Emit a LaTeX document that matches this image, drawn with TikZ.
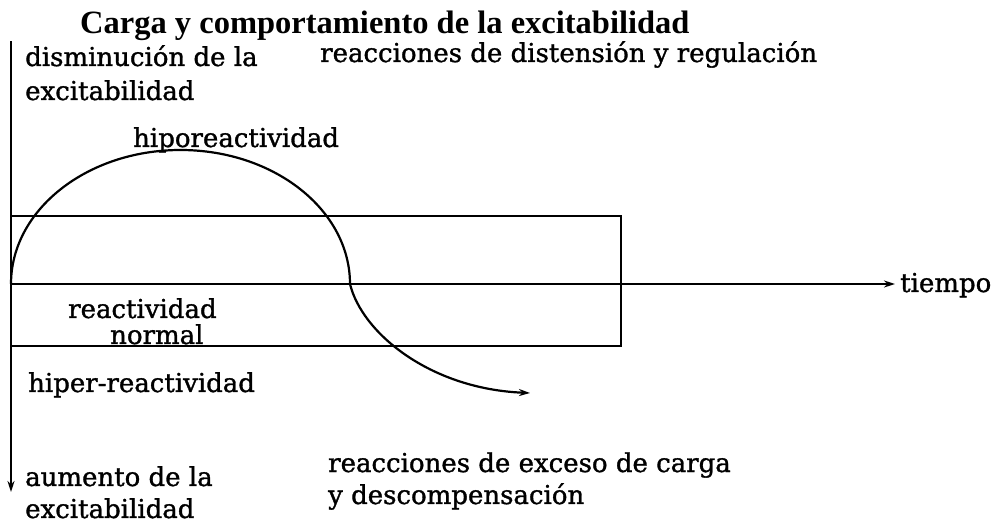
\documentclass[tikz,border=0pt]{standalone}
\usepackage{fontspec}
\setmainfont{DejaVu Serif}[FakeBold=1.2]
\newfontfamily\headfont{Liberation Serif}
\usetikzlibrary{arrows.meta}

\begin{document}
\begin{tikzpicture}[x=1pt,y=1pt,
    notetext/.style ={anchor=base west, inner sep=0pt, font=\fontsize{26}{30}\selectfont},
    headtext/.style ={anchor=base west, inner sep=0pt, font=\headfont\bfseries\fontsize{32.5}{36}\selectfont},
    axisline/.style ={line width=2.2pt, -{Stealth[length=11pt,width=7pt]}},
    boxline/.style ={line width=2.2pt}]
   \useasboundingbox (0,0) rectangle (1005,528);

   \coordinate (O) at (11,244);
   \coordinate (ytop) at (11,487);
   \coordinate (ybot) at (11,36);
   \coordinate (xend) at (895,244);
   \coordinate (boxbl) at (11,182);
   \coordinate (boxtr) at (621,312);
   \coordinate (curveend) at (530,135);

   \node[headtext] (title) at (80,494) {Carga y comportamiento de la excitabilidad};
   \node[notetext] (dis1) at (25,462) {disminución de la};
   \node[notetext] (dis2) at (25,428) {excitabilidad};
   \node[notetext] (dist) at (320,466) {reacciones de distensión y regulación};
   \node[notetext] (hipo) at (133,381) {hiporeactividad};
   \node[notetext] (react) at (68,210) {reactividad};
   \node[notetext] (normal) at (110,184) {normal};
   \node[notetext] (hiper) at (28,136) {hiper-reactividad};
   \node[notetext] (aum1) at (25,42) {aumento de la};
   \node[notetext] (aum2) at (25,10) {excitabilidad};
   \node[notetext] (exc1) at (328,56) {reacciones de exceso de carga};
   \node[notetext] (exc2) at (328,24) {y descompensación};
   \node[notetext] (tiempo) at (900,236) {tiempo};

   \draw[axisline] (O) to (xend);
   \draw[axisline, {Stealth[length=11pt,width=7pt]}-] (ybot) to (ytop);
   \draw[boxline] (boxbl) rectangle (boxtr);
   \draw[axisline] (O) arc[start angle=180, end angle=0, x radius=169.5, y radius=134]
      .. controls +(12,-49) and +(-100,4) .. (curveend);
 \end{tikzpicture}
\end{document}
